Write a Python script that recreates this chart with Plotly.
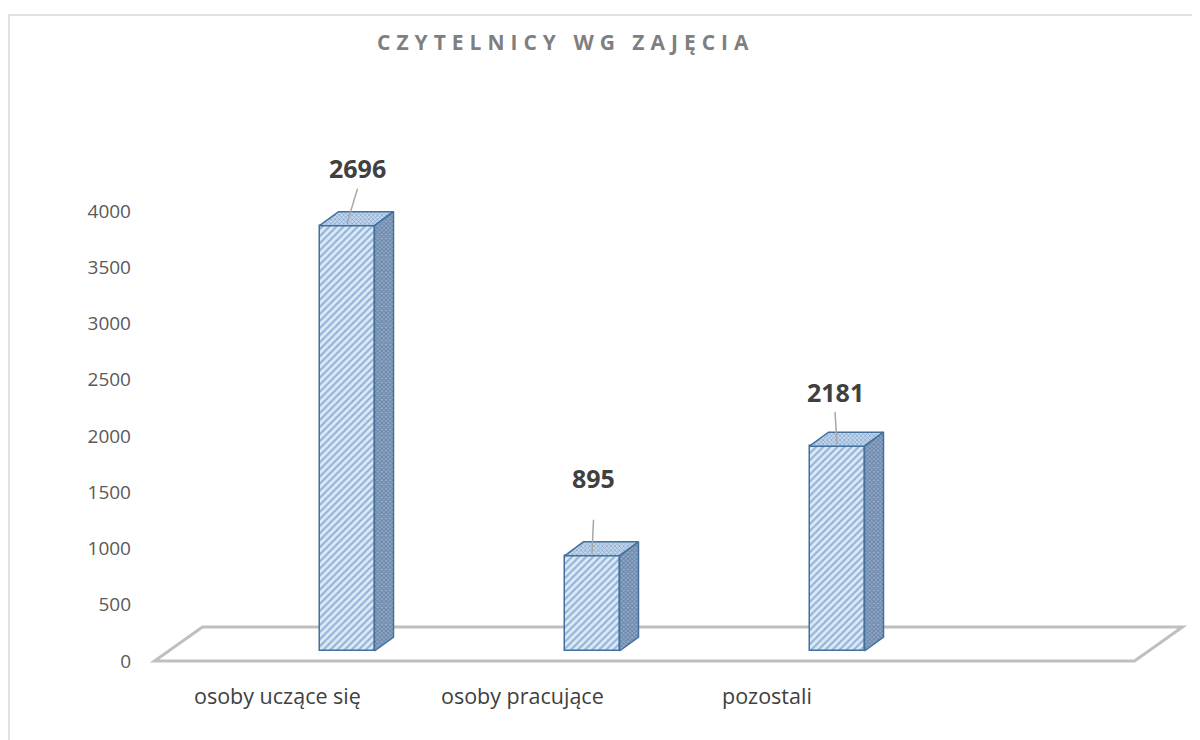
import plotly.graph_objects as go

# ---- data ----
categories = ["osoby uczące się", "osoby pracujące", "pozostali"]
bar_values = [3870, 935, 1910]          # bar heights as drawn on the value axis
label_texts = ["2696", "895", "2181"]   # data labels shown above the bars
y_ticks = [0, 500, 1000, 1500, 2000, 2500, 3000, 3500, 4000]
title_text = "CZYTELNICY WG ZAJĘCIA"

# ---- style / geometry constants ----
FONT = "Open Sans"
W, H = 1200, 740
OFF = 8  # page body margin
ML, MR, MT, MB = 132, 10, 12, 20
PX_PER_CAT = 245.0
CAT0_PX = 277.0 - OFF
ZERO_PX = 661.0 - OFF
PX_PER_VAL = 0.1125

plot_w = W - ML - MR
plot_h = H - MT - MB
x0 = -(CAT0_PX - ML) / PX_PER_CAT
x1 = x0 + plot_w / PX_PER_CAT
y0 = -(MT + plot_h - ZERO_PX) / PX_PER_VAL
y1 = (ZERO_PX - MT) / PX_PER_VAL

bar_shift = 70 / PX_PER_CAT
bar_width = 55 / PX_PER_CAT
depth_dx = 19 / PX_PER_CAT
depth_dy = 14 / PX_PER_VAL
bar_base = 10 / PX_PER_VAL
floor_dx = 48 / PX_PER_CAT
floor_dy = 34 / PX_PER_VAL

# label placement (px offsets converted to axis units)
label_dx = [10.5 / PX_PER_CAT, 1.5 / PX_PER_CAT, -2 / PX_PER_CAT]
label_dy = [58 / PX_PER_VAL, 78 / PX_PER_VAL, 54 / PX_PER_VAL]
leader_gap = [21 / PX_PER_VAL, 42 / PX_PER_VAL, 20 / PX_PER_VAL]
leader_end = 2 / PX_PER_VAL

edge_col = "#41719c"

fig = go.Figure()

# front faces
fig.add_trace(go.Bar(
    x=[i + bar_shift for i in range(len(categories))],
    y=[v - bar_base for v in bar_values],
    base=bar_base,
    width=bar_width,
    marker=dict(
        color="#dbe7f5",
        line=dict(color=edge_col, width=1.5),
        pattern=dict(shape="/", fgcolor="#4a7dba", bgcolor="#dde9f6", size=5, solidity=0.42),
    ),
    hoverinfo="skip",
    showlegend=False,
))

for i, v in enumerate(bar_values):
    cx = i + bar_shift
    xl = cx - bar_width / 2
    xr = cx + bar_width / 2
    # top face
    fig.add_trace(go.Scatter(
        x=[xl, xr, xr + depth_dx, xl + depth_dx, xl],
        y=[v, v, v + depth_dy, v + depth_dy, v],
        mode="lines", fill="toself",
        fillcolor="#b8cde6",
        fillpattern=dict(shape="x", fgcolor="#4a78ad", bgcolor="#c3d6ec", size=3, solidity=0.45),
        line=dict(color=edge_col, width=1.5),
        hoverinfo="skip", showlegend=False,
    ))
    # side face
    fig.add_trace(go.Scatter(
        x=[xr, xr + depth_dx, xr + depth_dx, xr, xr],
        y=[bar_base, bar_base + depth_dy, v + depth_dy, v, bar_base],
        mode="lines", fill="toself",
        fillcolor="#6f89ad",
        fillpattern=dict(shape="x", fgcolor="#3a5a82", bgcolor="#94abc9", size=3, solidity=0.55),
        line=dict(color=edge_col, width=1.5),
        hoverinfo="skip", showlegend=False,
    ))
    # leader line + data label
    lx = cx + label_dx[i]
    ly = v + label_dy[i]
    fig.add_trace(go.Scatter(
        x=[lx, cx],
        y=[ly - leader_gap[i], v + leader_end],
        mode="lines", line=dict(color="#a6a6a6", width=1.5),
        hoverinfo="skip", showlegend=False,
    ))
    fig.add_annotation(
        x=lx, y=ly, xref="x", yref="y", text=f"<b>{label_texts[i]}</b>",
        showarrow=False, font=dict(family=FONT, size=25, color="#404040"),
        xanchor="center", yanchor="middle",
    )

# category labels
for i, c in enumerate(categories):
    fig.add_annotation(
        x=i, y=-34 / PX_PER_VAL, xref="x", yref="y", text=c,
        showarrow=False, font=dict(family=FONT, size=21.5, color="#404040"),
        xanchor="center", yanchor="middle",
    )

# floor
n_slots = len(categories) + 1
fx0, fx1 = -0.5, n_slots - 0.5
floor_path = (f"M {fx0},0 L {fx1},0 L {fx1 + floor_dx},{floor_dy} "
              f"L {fx0 + floor_dx},{floor_dy} Z")
fig.add_shape(type="path", path=floor_path, xref="x", yref="y",
              line=dict(color="#bfbfbf", width=3), layer="below")

# chart border
def px2paper_x(px):
    return (px - OFF - ML) / plot_w

def px2paper_y(py):
    return (MT + plot_h - (py - OFF)) / plot_h

fig.add_shape(type="rect", xref="paper", yref="paper",
              x0=px2paper_x(9), x1=px2paper_x(W + 40),
              y0=px2paper_y(H + 40), y1=px2paper_y(15),
              line=dict(color="#d9d9d9", width=1.5), layer="below")

# title
fig.add_annotation(
    x=px2paper_x(566), y=px2paper_y(42), xref="paper", yref="paper",
    text=f'<b><span style="letter-spacing:6px">{title_text}</span></b>',
    showarrow=False, font=dict(family=FONT, size=21, color="#7f7f7f"),
    xanchor="center", yanchor="middle",
)

fig.update_layout(
    width=W, height=H,
    margin=dict(l=ML, r=MR, t=MT, b=MB),
    paper_bgcolor="white", plot_bgcolor="white",
    xaxis=dict(range=[x0, x1], visible=False, fixedrange=True),
    yaxis=dict(range=[y0, y1], tickvals=y_ticks, ticktext=[str(t) for t in y_ticks],
               showgrid=False, zeroline=False, showline=False, ticks="",
               ticklabelstandoff=8,
               tickfont=dict(family=FONT, size=19, color="#595959"), fixedrange=True),
    showlegend=False,
    bargap=0,
)

fig.write_html("out.html")
